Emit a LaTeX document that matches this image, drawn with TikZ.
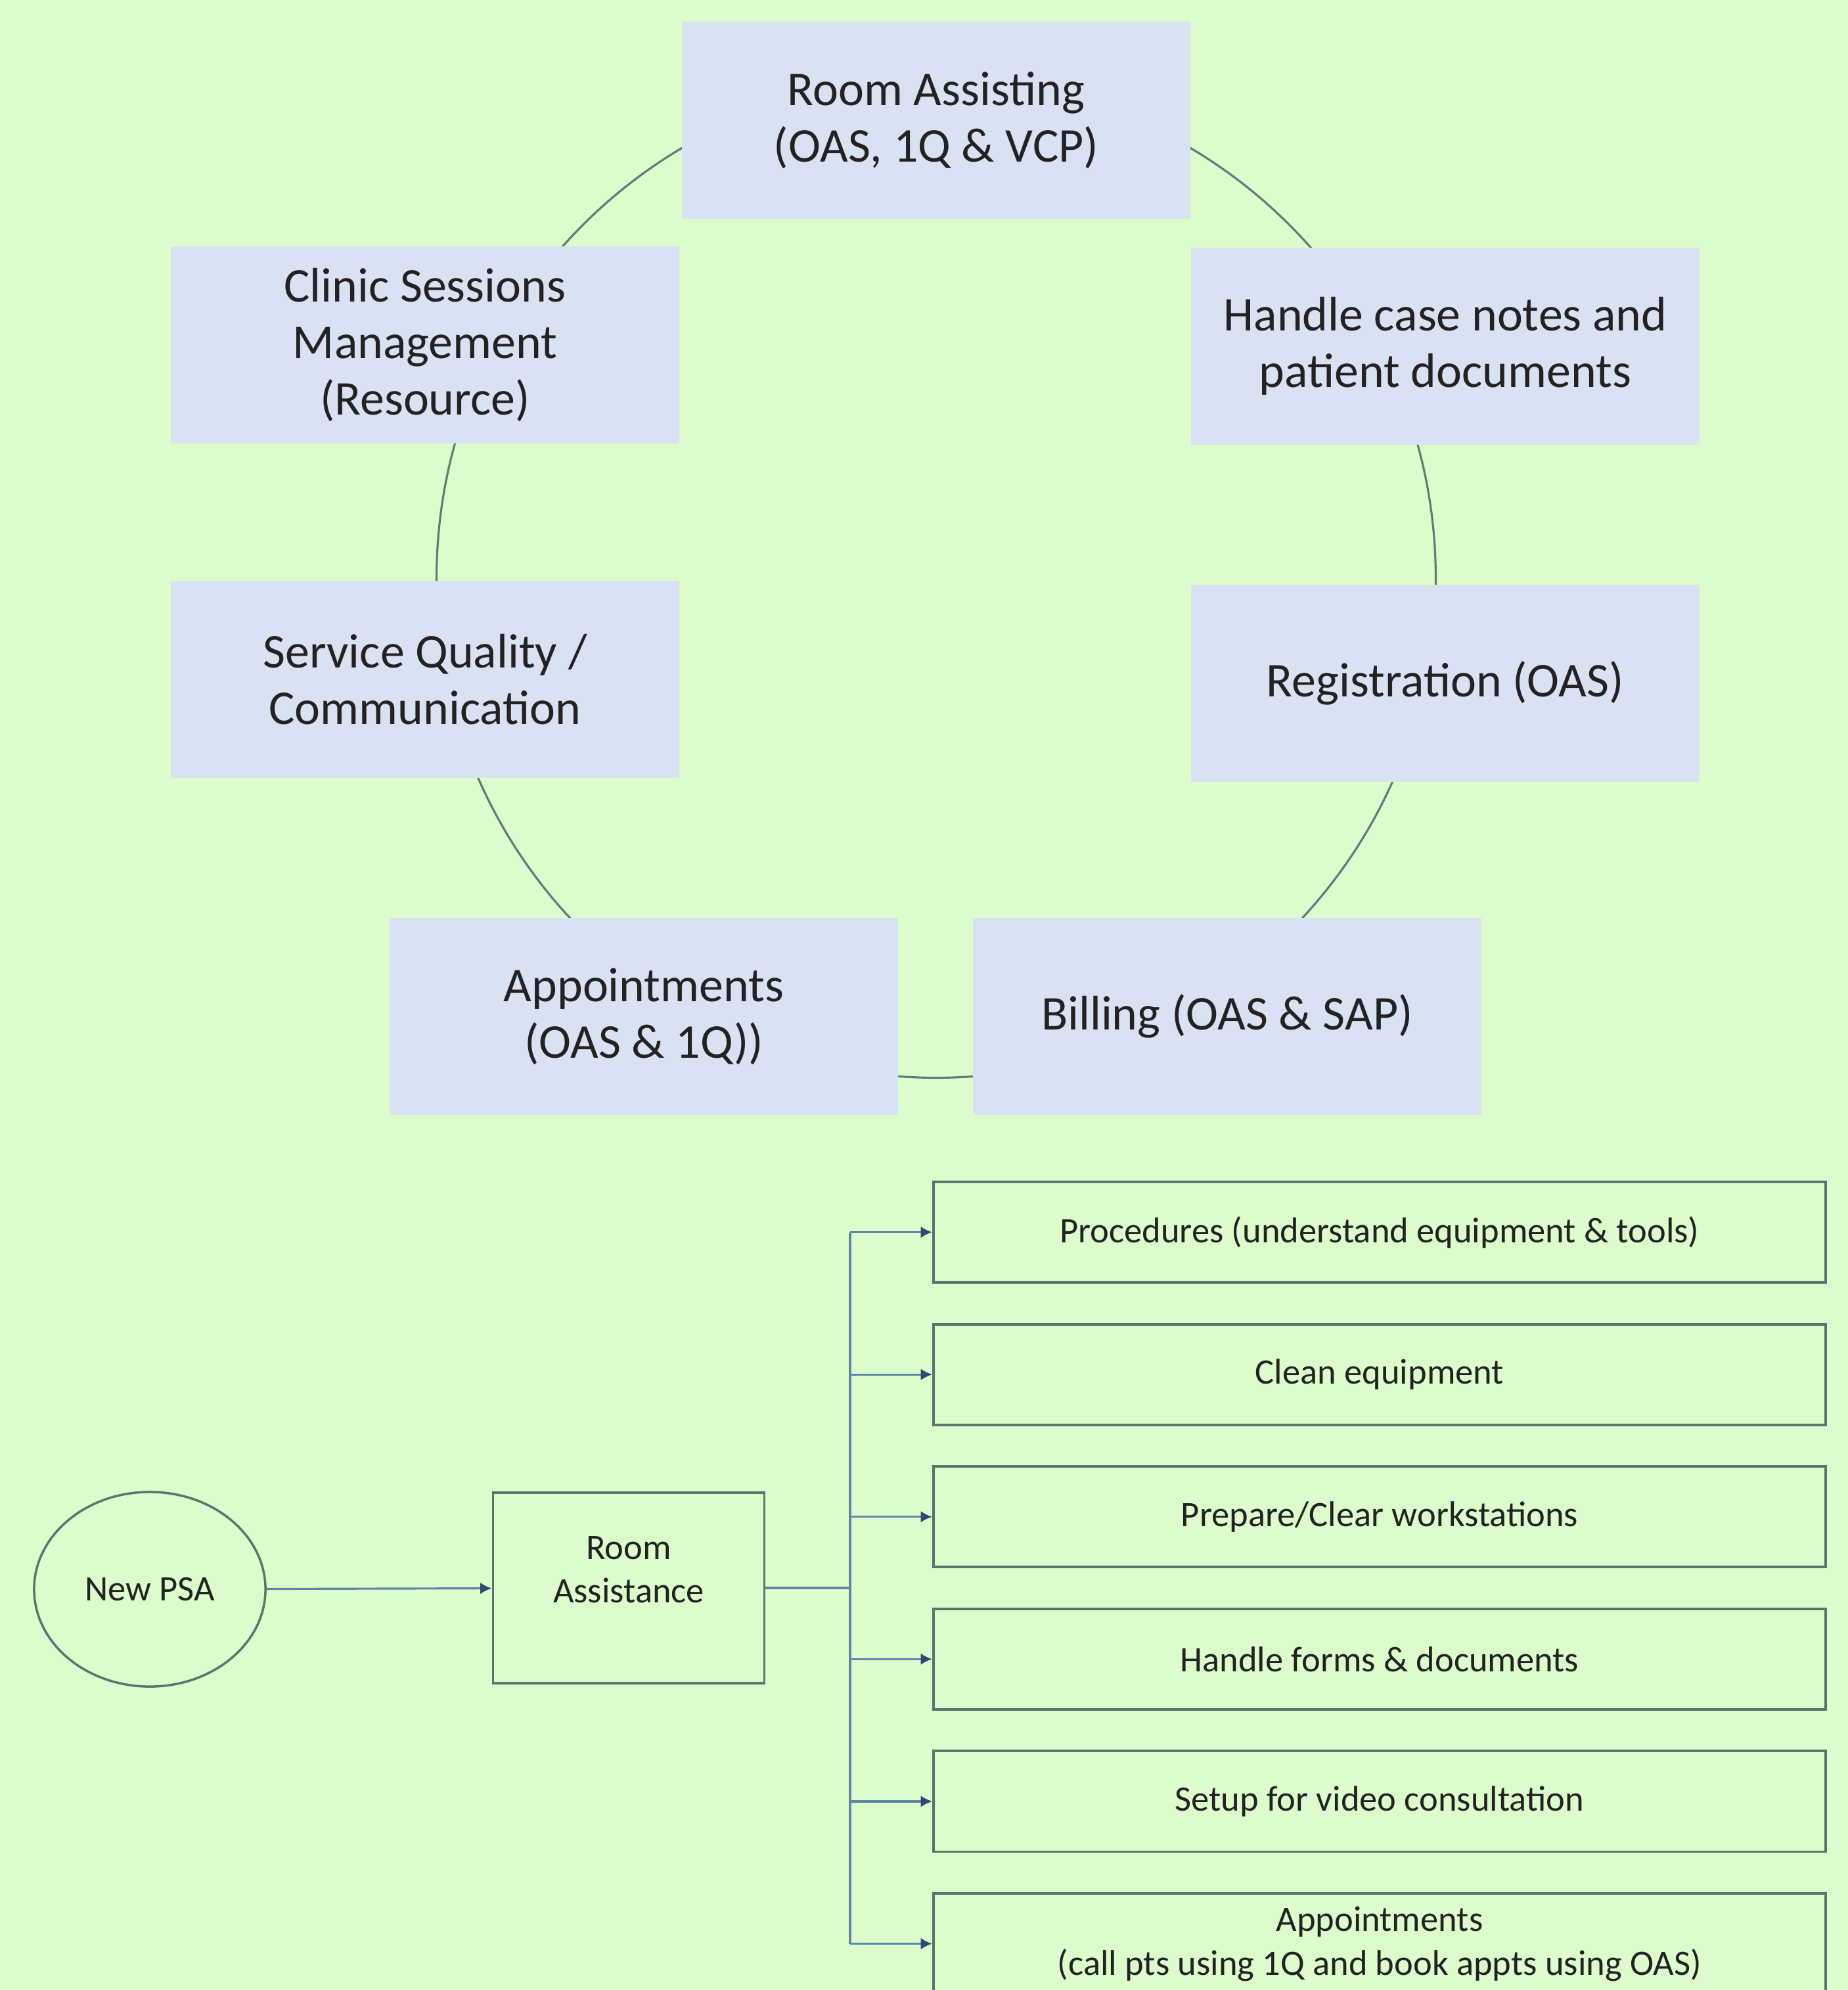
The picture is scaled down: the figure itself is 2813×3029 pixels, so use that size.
\documentclass[tikz,border=0pt]{standalone}
\usepackage{fontspec}
\setmainfont{Carlito}
\usetikzlibrary{arrows.meta,shapes.geometric}
\definecolor{meadow}{HTML}{DDFCCB}
\definecolor{lilac}{HTML}{D9E2F3}
\definecolor{ringgrey}{HTML}{5A7F78}
\definecolor{framegrey}{HTML}{56786C}
\definecolor{wireblue}{HTML}{5F86A8}
\definecolor{tipnavy}{HTML}{2E4A70}
\definecolor{ink}{HTML}{222222}
\begin{document}
\begin{tikzpicture}[x=0.01cm,y=-0.01cm,
  stage/.style={fill=lilac,minimum width=7.73cm,minimum height=3cm,inner sep=0pt,align=center,text=ink,font=\fontsize{21}{24.5}\selectfont},
  task/.style={draw=framegrey,line width=1.1pt,minimum width=13.57cm,minimum height=1.53cm,inner sep=0pt,align=center,text=ink,font=\fontsize{15.5}{19}\selectfont},
  ring/.style={draw=ringgrey,line width=0.9pt},
  wire/.style={draw=wireblue,line width=0.9pt},
  feed/.style={wire,-{Latex[length=5pt,width=5pt,color=tipnavy]}}]
\path[use as bounding box] (0,0) rectangle (2813,3029);
\clip (0,0) rectangle (2813,3029);
\fill[meadow] (0,0) rectangle (2813,3029);
\coordinate (hub) at (1425,880);
\draw[ring] (hub) circle (7.6cm);
\node[stage] (assist) at (1425,183) {Room Assisting\\(OAS, 1Q \& VCP)};
\node[stage] (clinic) at (647,525) {Clinic Sessions\\Management\\(Resource)};
\node[stage] (notes) at (2200,527) {Handle case notes and\\patient documents};
\node[stage] (quality) at (647,1034) {Service Quality /\\Communication};
\node[stage] (regist) at (2200,1040) {Registration (OAS)};
\node[stage] (appts) at (980,1547) {Appointments\\(OAS \& 1Q))};
\node[stage] (billing) at (1868,1547) {Billing (OAS \& SAP)};
\node[ellipse,draw=framegrey,line width=1pt,minimum width=3.52cm,minimum height=2.96cm,text=ink,font=\fontsize{15.5}{19}\selectfont] (psa) at (228,2419) {New PSA};
\node[draw=framegrey,line width=1pt,minimum width=4.13cm,minimum height=2.9cm,text depth=0.56cm,align=center,text=ink,font=\fontsize{15.5}{19}\selectfont] (room) at (957,2417) {Room\\Assistance};
\foreach \txt [count=\i] in {Procedures (understand equipment \& tools),Clean equipment,Prepare/Clear workstations,Handle forms \& documents,Setup for video consultation,{Appointments\\(call pts using 1Q and book appts using OAS)}}
  \node[task] (t\i) at (2100,1875.5+216.6*\i-216.6) {\txt};
\coordinate (trunk) at (1294,2417);
\draw[feed] (psa) -- (room);
\draw[wire] (room.east) -- (trunk);
\draw[wire] (trunk |- t1) -- (trunk |- t6);
\foreach \i in {1,...,6}
  \draw[feed] (trunk |- t\i) -- (t\i.west);
\end{tikzpicture}
\end{document}
